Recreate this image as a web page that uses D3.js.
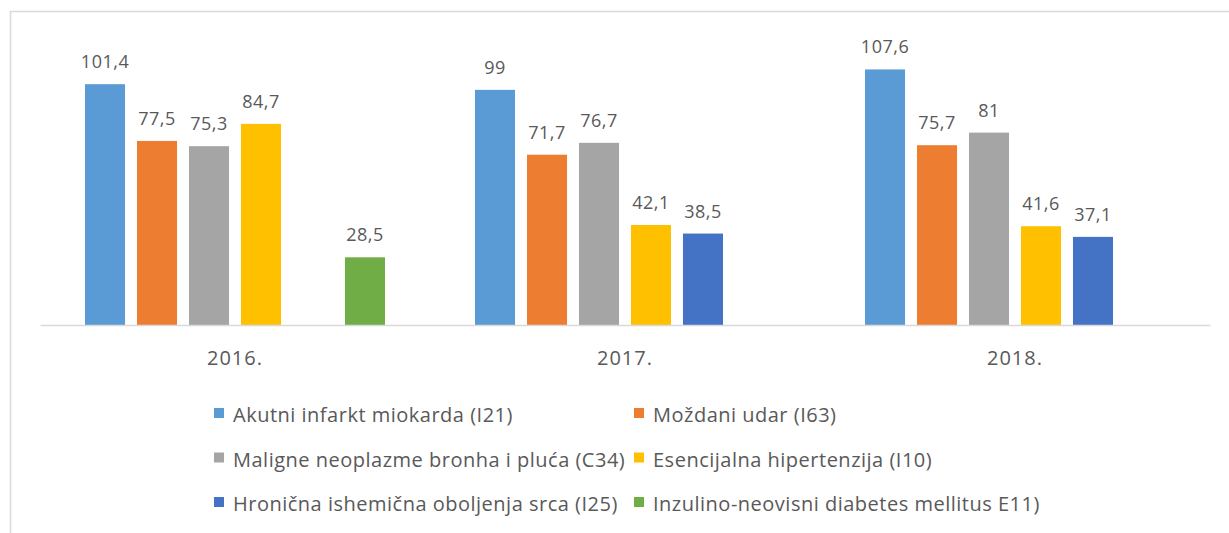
<!DOCTYPE html>
<html><head><meta charset="utf-8">
<script src="https://cdn.jsdelivr.net/npm/d3@7"></script>
<style>body{margin:0;background:#fff}svg{display:block}</style>
</head><body><svg id="c" width="1229" height="533"></svg>
<script>
const years = ["2016.", "2017.", "2018."];
const seriesNames = [
  "Akutni infarkt miokarda (I21)",
  "Moždani udar (I63)",
  "Maligne neoplazme bronha i pluća (C34)",
  "Esencijalna hipertenzija (I10)",
  "Hronična ishemična oboljenja srca (I25)",
  "Inzulino-neovisni diabetes mellitus E11)"
];
const colors = ["#5B9BD5", "#ED7D31", "#A5A5A5", "#FFC000", "#4472C4", "#70AD47"];
const akutni = [101.4, 99, 107.6];
const mozdani = [77.5, 71.7, 75.7];
const maligne = [75.3, 76.7, 81];
const esencijalna = [84.7, 42.1, 41.6];
const hronicna = [null, 38.5, 37.1];
const inzulino = [28.5, null, null];
const values = [akutni, mozdani, maligne, esencijalna, hronicna, inzulino];

const svg = d3.select("#c");
const font = "'Open Sans', 'Noto Sans', sans-serif";
const txt = "#595959";

svg.append("rect").attr("x", 10.5).attr("y", 11.5).attr("width", 1250).attr("height", 560)
  .attr("fill", "none").attr("stroke", "#D9D9D9").attr("stroke-width", 1.5);

const x0 = d3.scaleBand().domain(years).range([40, 1210]);
const x1 = d3.scaleBand().domain(d3.range(seriesNames.length)).range([45, 345]).paddingInner(0.23).paddingOuter(0);
const y = d3.scaleLinear().domain([0, 120]).range([325, 40]);

const data = [];
values.forEach((arr, s) => arr.forEach((v, i) => { if (v != null) data.push({s, year: years[i], v}); }));

svg.append("g").selectAll("rect").data(data).join("rect")
  .attr("x", d => x0(d.year) + x1(d.s))
  .attr("y", d => y(d.v))
  .attr("width", x1.bandwidth())
  .attr("height", d => y(0) - y(d.v))
  .attr("fill", d => colors[d.s]);

svg.append("g").selectAll("text").data(data).join("text")
  .attr("x", d => x0(d.year) + x1(d.s) + x1.bandwidth() / 2)
  .attr("y", d => y(d.v) - 16)
  .attr("text-anchor", "middle")
  .attr("font-family", font).attr("font-size", 18).attr("letter-spacing", 0.5).attr("fill", txt)
  .text(d => String(d.v).replace(".", ","));

const axis = d3.axisBottom(x0).tickSize(0).tickPadding(0);
const ag = svg.append("g").attr("transform", "translate(0,325)").call(axis);
ag.select(".domain").attr("stroke", "#D9D9D9").attr("stroke-width", 1.5);
ag.selectAll("text").attr("font-family", font).attr("font-size", 20).attr("letter-spacing", 1).attr("fill", txt)
  .attr("dy", null).attr("y", 40);

const legendPos = seriesNames.map((n, i) => ({n, i, col: i % 2, row: Math.floor(i / 2)}));
const lg = svg.append("g").selectAll("g").data(legendPos).join("g")
  .attr("transform", d => `translate(${d.col ? 634 : 214},${413 + d.row * 44.5})`);
lg.append("rect").attr("x", 0).attr("y", -5).attr("width", 10).attr("height", 10)
  .attr("fill", d => colors[d.i]);
lg.append("text").attr("x", 19).attr("y", 9)
  .attr("font-family", font).attr("font-size", 20).attr("letter-spacing", 0.5).attr("fill", txt)
  .text(d => d.n);
</script></body></html>
